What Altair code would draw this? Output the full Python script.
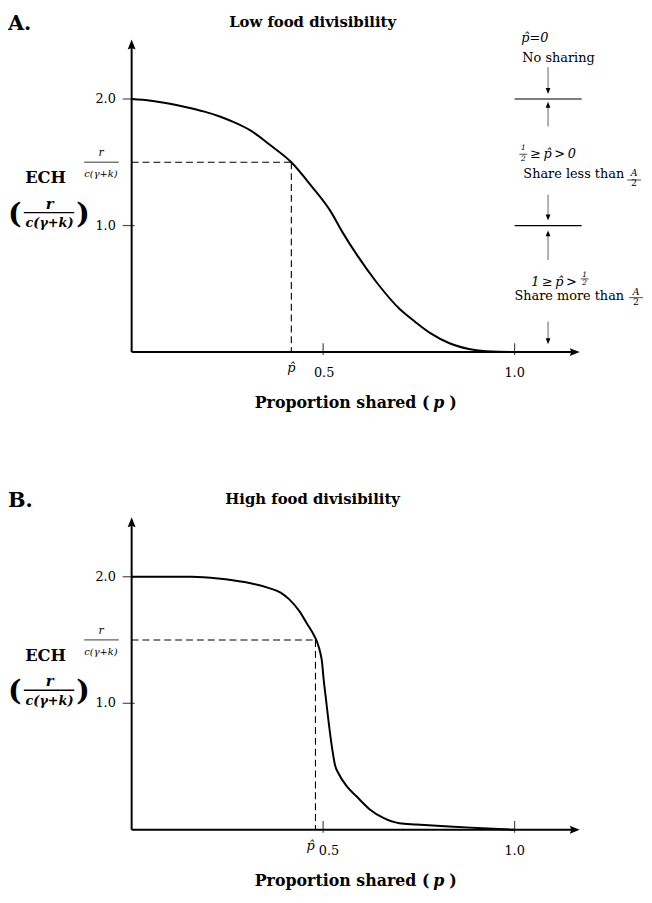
import altair as alt
import pandas as pd

# ---------------- data ----------------
p_low = [0.00, 0.05, 0.10, 0.14, 0.19, 0.23, 0.27, 0.31, 0.36, 0.417, 0.47, 0.52,
         0.55, 0.59, 0.64, 0.70, 0.74, 0.78, 0.83, 0.90, 0.96, 1.00]
ech_low = [2.00, 1.987, 1.962, 1.937, 1.90, 1.862, 1.813, 1.752, 1.64, 1.50, 1.31, 1.11,
           0.95, 0.76, 0.55, 0.34, 0.24, 0.15, 0.07, 0.015, 0.002, 0.0]

p_high = [0.00, 0.157, 0.226, 0.295, 0.355, 0.389, 0.411, 0.437, 0.458, 0.476, 0.484,
          0.493, 0.497, 0.501, 0.507, 0.514, 0.523, 0.531, 0.540, 0.562, 0.587, 0.622,
          0.656, 0.699, 0.743, 0.829, 0.915, 1.00]
ech_high = [2.00, 2.00, 1.987, 1.958, 1.914, 1.875, 1.823, 1.732, 1.629, 1.538, 1.486,
            1.395, 1.330, 1.20, 1.044, 0.862, 0.655, 0.512, 0.447, 0.343, 0.265, 0.161,
            0.096, 0.052, 0.042, 0.026, 0.013, 0.0]

phat_low = 0.417
phat_high = 0.480
threshold = 1.5            # r / c(gamma + k)

x_ticks = [0.5, 1.0]
x_tick_labels = ["0.5", "1.0"]
y_ticks = [1.0, 2.0]
y_tick_labels = ["1.0", "2.0"]
levels = [2.0, 1.0]         # region boundaries drawn at right of panel A

# ---------------- styling ----------------
SERIF = "DejaVu Serif"
W, H = 453, 316
XS = alt.Scale(domain=[0, 1.17], nice=False, zero=False)
YS = alt.Scale(domain=[0, 2.47], nice=False, zero=False)
TS = "\u2009"  # thin space


def X(f="p"):
    return alt.X(f, type="quantitative", scale=XS, axis=None)


def Y(f="v"):
    return alt.Y(f, type="quantitative", scale=YS, axis=None)


def txt(s, x, y, size=13, weight="normal", style="normal", align="left"):
    return alt.Chart().mark_text(
        text=s, font=SERIF, fontSize=size, fontWeight=weight, fontStyle=style,
        align=align, baseline="alphabetic", color="black"
    ).encode(x=alt.value(x), y=alt.value(y))


def seg(x1, y1, x2, y2, color="black", width=1.0):
    return alt.Chart().mark_rule(color=color, strokeWidth=width).encode(
        x=alt.value(x1), y=alt.value(y1), x2=alt.value(x2), y2=alt.value(y2))


def head(x, y, path, size, color="black", opacity=1.0):
    return alt.Chart().mark_point(
        shape=path, size=size, filled=True, color=color, opacity=opacity, strokeWidth=0
    ).encode(x=alt.value(x), y=alt.value(y))


UP_BIG = "M0,-1L0.8,1L0,0.7L-0.8,1Z"
RIGHT_BIG = "M1,0L-1,0.8L-0.7,0L-1,-0.8Z"
DOWN_S = "M-0.8,-1L0.8,-1L0,1Z"
UP_S = "M-0.8,1L0.8,1L0,-1Z"


def panel(letter, title, p_vals, e_vals, phat, phat_dx, xlab_dx, extra):
    curve = alt.Chart(pd.DataFrame({"p": p_vals, "v": e_vals})).mark_line(
        color="black", strokeWidth=2, interpolate="monotone"
    ).encode(x=X(), y=Y())

    dash_df = pd.DataFrame({"p": [0.0, phat], "p2": [phat, phat],
                            "v": [threshold, threshold], "v2": [threshold, 0.0]})
    dashed = alt.Chart(dash_df).mark_rule(
        color="black", strokeWidth=1.1, strokeDash=[7, 4]
    ).encode(x=X(), x2=alt.X2("p2"), y=Y(), y2=alt.Y2("v2"))

    xt_df = pd.DataFrame({"p": x_ticks, "v": [0.0] * len(x_ticks), "lab": x_tick_labels})
    yt_df = pd.DataFrame({"p": [0.0] * len(y_ticks), "v": y_ticks, "lab": y_tick_labels})
    xt = alt.Chart(xt_df).mark_tick(orient="vertical", size=12, thickness=1.2,
                                    yOffset=-3, color="black").encode(x=X(), y=Y())
    yt = alt.Chart(yt_df).mark_tick(orient="horizontal", size=12, thickness=1.2,
                                    xOffset=-3, color="black").encode(x=X(), y=Y())
    xls = []
    for i in range(len(x_ticks)):
        xls.append(alt.Chart(xt_df.iloc[[i]]).mark_text(
            font=SERIF, fontSize=13, dy=21, dx=xlab_dx[i], baseline="middle",
            color="black").encode(x=X(), y=Y(), text="lab:N"))
    yl = alt.Chart(yt_df).mark_text(font=SERIF, fontSize=13, dx=-16, align="right",
                                    baseline="middle", color="black").encode(
        x=X(), y=Y(), text="lab:N")
    ph = alt.Chart(pd.DataFrame({"p": [phat], "v": [0.0]})).mark_text(
        text="p\u0302", font=SERIF, fontSize=13, fontStyle="italic", dy=16, dx=phat_dx,
        baseline="middle", color="black").encode(x=X(), y=Y())

    layers = [
        head(-124, -26, "circle", 1, opacity=0),
        # axes with arrowheads
        seg(0, H, 0, 6, width=2), seg(0, H, W - 6, H, width=2),
        head(0, 5, UP_BIG, 100), head(W - 5, H, RIGHT_BIG, 100),
        xt, yt, *xls, yl, dashed, curve, ph,
        # panel letter and title
        txt(letter, -125, -10, 21, "bold"),
        txt(title, 183, -13, 15, "bold", align="center"),
        # y-axis title
        txt("ECH", -87, 145, 16.5, "bold", align="center"),
        txt("(", -125, 185, 29, "bold"),
        txt(")", -56, 185, 29, "bold"),
        txt("r", -83, 171, 15, "bold", "italic", "center"),
        seg(-109, 175, -58, 175, width=1.5),
        txt("c(\u03b3+k)", -83, 189.5, 13, "bold", "italic", "center"),
        # threshold label
        txt("r", -31, 118, 11, style="italic", align="center"),
        seg(-48, 124, -13, 124, width=0.8),
        txt("c(\u03b3+k)", -31, 139, 10, style="italic", align="center"),
        # x-axis title
        txt("Proportion shared (", 301, 373, 16, "bold", align="right"),
        txt("p", 305, 373, 16, "bold", "italic"),
        txt(")", 321, 373, 16, "bold"),
    ] + extra
    return alt.layer(*layers).properties(width=W, height=H)


# right-hand annotations of panel A
lev_df = pd.DataFrame({"p": [1.0, 1.0], "v": levels})
AX = 421
GRAY = "#8f8f8f"
annot = [
    alt.Chart(lev_df).mark_rule(color="black", strokeWidth=1.2).encode(
        x=X(), x2=alt.value(455), y=Y()),
    txt("p\u0302=0", 394, 3, 13, style="italic"),
    txt("No sharing", 395, 23, 13),
    seg(AX, 28, AX, 52, GRAY, 1.4), head(AX, 52, DOWN_S, 36),
    seg(AX, 66, AX, 88, GRAY, 1.4), head(AX, 66, UP_S, 36),
    txt("1", 396, 112, 7.5, style="italic", align="center"),
    seg(392, 116, 400, 116, width=0.7),
    txt("2", 396, 123, 7.5, style="italic", align="center"),
    txt("\u2265" + TS + "p\u0302" + TS + ">" + TS + "0", 403, 120, 13, style="italic"),
    txt("Share less than", 396, 140, 13),
    txt("A", 508, 138, 9.5, style="italic", align="center"),
    seg(501, 142, 515, 142, width=0.7),
    txt("2", 508, 148.5, 9.5, align="center"),
    seg(AX, 157, AX, 180, GRAY, 1.4), head(AX, 180, DOWN_S, 36),
    seg(AX, 196, AX, 223, GRAY, 1.4), head(AX, 196, UP_S, 36),
    txt("1" + TS + "\u2265" + TS + "p\u0302" + TS + ">", 404, 249, 13, style="italic"),
    txt("1", 458, 240, 7.5, style="italic", align="center"),
    seg(454, 242, 462, 242, width=0.7),
    txt("2", 458, 248, 7.5, style="italic", align="center"),
    txt("Share more than", 387, 263, 13),
    txt("A", 510, 258, 9.5, style="italic", align="center"),
    seg(503, 261, 517, 261, width=0.7),
    txt("2", 510, 268, 9.5, align="center"),
    seg(AX, 285, AX, 305, GRAY, 1.4), head(AX, 305, DOWN_S, 36),
]

top = panel("A.", "Low food divisibility", p_low, ech_low, phat_low, 0, [1, 0], annot)
bottom = panel("B.", "High food divisibility", p_high, ech_high, phat_high, -5, [6, 0], [])

chart = alt.vconcat(top, bottom, spacing=167, bounds="flush").properties(
    padding=0, background="white"
).configure_view(stroke=None)

chart.save("out.html", embed_options={"renderer": "svg", "actions": False})
